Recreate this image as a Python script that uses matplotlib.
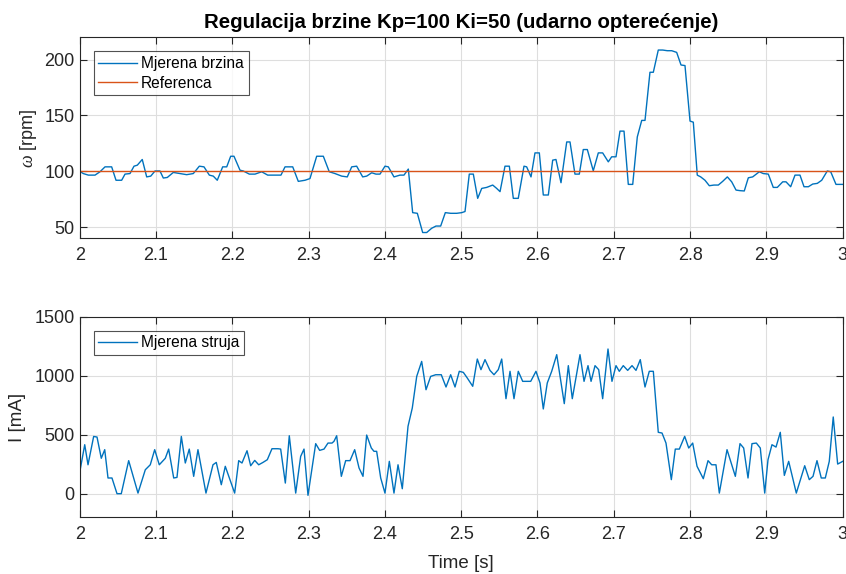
import matplotlib
matplotlib.use("Agg")
import matplotlib.pyplot as plt
from matplotlib.ticker import FuncFormatter

plt.rcParams['font.family'] = ['Liberation Sans', 'DejaVu Sans']
plt.rcParams['mathtext.fontset'] = 'custom'
plt.rcParams['mathtext.it'] = 'Liberation Serif:italic'

## measured data ##

# speed [rpm]
t_speed = [2.0, 2.0047, 2.0113, 2.0201, 2.0266, 2.0332, 2.0419, 2.0476, 2.055, 2.0594,
           2.0659, 2.0712, 2.0755, 2.082, 2.0878, 2.0931, 2.0987, 2.1052, 2.1096, 2.1148,
           2.1227, 2.1315, 2.1402, 2.1489, 2.1568, 2.1629, 2.1699, 2.1751, 2.1803, 2.1874,
           2.1927, 2.1979, 2.2022, 2.2101, 2.2144, 2.2223, 2.2298, 2.2385, 2.2464, 2.2582,
           2.2638, 2.2691, 2.2792, 2.2865, 2.2953, 2.3018, 2.3106, 2.3193, 2.3271, 2.3346,
           2.3434, 2.3507, 2.3565, 2.363, 2.3709, 2.3761, 2.3827, 2.3883, 2.3936, 2.4001,
           2.4045, 2.4119, 2.4198, 2.425, 2.4307, 2.4364, 2.4425, 2.4495, 2.4548, 2.4613,
           2.467, 2.4731, 2.4792, 2.4862, 2.4941, 2.5007, 2.505, 2.5106, 2.5159, 2.5216,
           2.5269, 2.5334, 2.5413, 2.5465, 2.5509, 2.5574, 2.5631, 2.5683, 2.5748, 2.5823,
           2.5858, 2.5915, 2.5967, 2.6024, 2.6076, 2.6142, 2.6199, 2.6242, 2.6308, 2.6383,
           2.6426, 2.6491, 2.6548, 2.66, 2.6653, 2.6731, 2.6797, 2.6854, 2.6928, 2.6972,
           2.7029, 2.7081, 2.7134, 2.719, 2.7248, 2.7308, 2.7366, 2.7409, 2.7474, 2.7518,
           2.7583, 2.7641, 2.7701, 2.7759, 2.7824, 2.7881, 2.7933, 2.7999, 2.8042, 2.8094,
           2.8139, 2.8195, 2.8252, 2.8313, 2.837, 2.8427, 2.8488, 2.8545, 2.8602, 2.8654,
           2.871, 2.8763, 2.882, 2.8907, 2.8959, 2.9025, 2.909, 2.9143, 2.9214, 2.9257,
           2.9318, 2.9375, 2.944, 2.9493, 2.955, 2.9607, 2.9667, 2.9725, 2.9798, 2.9843,
           2.9912, 3.0]
speed = [100, 98, 96.6, 96.6, 99.6, 104, 104, 92, 92, 97.5,
         98, 104.6, 105.5, 110.6, 95, 95.7, 100.3, 100.3, 94, 94.5,
         99, 98, 97, 98, 104.6, 104, 96.6, 95.7, 92, 104,
         104, 113.5, 113.5, 101, 100.3, 97.5, 97.5, 99.6, 96.6, 96.6,
         96.6, 104, 104, 91, 92, 93.5, 113.5, 113.5, 99.6, 98,
         95.7, 95, 104, 104.6, 95, 95.7, 98.7, 97.5, 97.5, 104.6,
         104, 95, 96.6, 96.6, 102, 63, 62.4, 45.2, 45.2, 49,
         51, 51, 63, 62.4, 62.4, 63, 64, 97.5, 97.5, 75.8,
         84.7, 85.6, 87.7, 84.7, 81.8, 104.6, 104.6, 75.8, 75.8, 104.6,
         104, 95, 116.5, 116.5, 78.8, 78.8, 110, 110.6, 89.8, 126.3,
         126.3, 97.5, 97.5, 119.5, 119.5, 100.5, 116.5, 116.5, 108.5, 113,
         113, 136, 136, 88.3, 88.3, 130.8, 145.6, 145.6, 188.7, 188.7,
         208.6, 208.6, 208, 208, 206.5, 195.2, 194.7, 145, 144, 96.6,
         95, 92, 87.1, 87.7, 87.7, 91, 95, 90.6, 83.2, 82.7,
         82.4, 94.2, 95, 99.6, 98, 97.5, 85.6, 85.6, 90.6, 90.6,
         86.2, 96.6, 96.6, 86.2, 86.2, 88.6, 89.2, 92, 100.3, 99.6,
         88.3, 88.3]
ref_speed = 100

# current [mA]
t_current = [2.0, 2.0066, 2.0109, 2.0183, 2.0227, 2.0283, 2.0328, 2.0371, 2.0423, 2.0489,
             2.0545, 2.0642, 2.0764, 2.086, 2.0925, 2.0983, 2.1043, 2.1122, 2.1166, 2.1232,
             2.1275, 2.1332, 2.1384, 2.1436, 2.1494, 2.155, 2.1655, 2.1747, 2.179, 2.1856,
             2.1908, 2.2031, 2.2084, 2.2127, 2.2193, 2.2241, 2.2294, 2.2346, 2.2402, 2.2459,
             2.252, 2.2599, 2.2634, 2.2695, 2.2747, 2.2831, 2.2896, 2.294, 2.2992, 2.3093,
             2.3145, 2.3202, 2.3254, 2.3307, 2.3333, 2.3368, 2.3429, 2.3486, 2.3543, 2.3604,
             2.3661, 2.3713, 2.3761, 2.3822, 2.3857, 2.3892, 2.3945, 2.4001, 2.4058, 2.4119,
             2.4172, 2.4228, 2.4303, 2.4359, 2.4417, 2.4482, 2.4539, 2.46, 2.4666, 2.4739,
             2.4801, 2.4862, 2.4919, 2.4975, 2.5028, 2.508, 2.5151, 2.5211, 2.5259, 2.5312,
             2.5377, 2.543, 2.5486, 2.5531, 2.5587, 2.564, 2.5692, 2.5748, 2.5806, 2.5911,
             2.598, 2.6033, 2.6076, 2.6128, 2.6186, 2.6252, 2.6351, 2.6404, 2.6456, 2.6557,
             2.661, 2.6662, 2.6702, 2.6754, 2.6802, 2.6854, 2.6924, 2.6976, 2.7029, 2.7072,
             2.7124, 2.7182, 2.7239, 2.7291, 2.7347, 2.7409, 2.7465, 2.7518, 2.7583, 2.7632,
             2.7684, 2.7754, 2.7806, 2.7859, 2.7929, 2.7982, 2.8034, 2.8091, 2.8173, 2.8235,
             2.8283, 2.8339, 2.8383, 2.8484, 2.8593, 2.8654, 2.8702, 2.8759, 2.8811, 2.8868,
             2.892, 2.8978, 2.9021, 2.9073, 2.9126, 2.9182, 2.9235, 2.9292, 2.9392, 2.9502,
             2.9562, 2.9611, 2.9663, 2.9719, 2.9772, 2.9824, 2.9876, 2.9934, 3.0]
current = [180, 415, 245, 485, 480, 300, 373, 133, 133, 0,
           0, 280, 5, 203, 245, 373, 245, 300, 378, 133,
           138, 485, 260, 378, 147, 373, 5, 245, 265, 76,
           232, 5, 280, 260, 364, 237, 282, 245, 265, 288,
           381, 381, 378, 90, 491, 5, 316, 378, -14, 424,
           367, 378, 429, 429, 444, 491, 147, 280, 280, 373,
           218, 147, 497, 387, 359, 359, 133, 5, 274, 5,
           245, 42, 571, 726, 994, 1121, 881, 994, 1008, 1008,
           904, 1008, 904, 1037, 1028, 980, 910, 1141, 1051, 1136,
           1045, 1008, 1051, 1141, 805, 1037, 805, 1037, 952, 952,
           1037, 938, 718, 938, 1037, 1178, 763, 1085, 805, 1178,
           952, 1085, 952, 1085, 1051, 805, 1226, 952, 1085, 1037,
           1085, 1045, 1085, 1045, 1136, 904, 1037, 1037, 520, 514,
           429, 119, 378, 378, 486, 387, 429, 232, 127, 280,
           245, 245, 5, 373, 147, 424, 387, 133, 424, 429,
           387, 5, 288, 415, 395, 520, 155, 274, 5, 237,
           119, 147, 280, 133, 133, 274, 650, 251, 274]

x_ticks = [2.0, 2.1, 2.2, 2.3, 2.4, 2.5, 2.6, 2.7, 2.8, 2.9, 3.0]

blue = "#0072BD"
orange = "#D95319"
dark = "#262626"


def matlab_axes(ax):
    ax.set_xlim(2, 3)
    ax.set_xticks(x_ticks)
    ax.xaxis.set_major_formatter(FuncFormatter(lambda v, p: f"{v:g}"))
    ax.grid(True, color="#dedede", linewidth=0.8)
    ax.set_axisbelow(True)
    ax.tick_params(direction="in", top=True, right=True, length=5,
                   width=0.8, color=dark, labelsize=13, labelcolor=dark)
    ax.tick_params(axis="x", pad=6)
    for s in ax.spines.values():
        s.set_color(dark)
        s.set_linewidth(0.8)


def matlab_legend(ax):
    leg = ax.legend(loc="upper left", fontsize=11.2, frameon=True, fancybox=False,
                    borderaxespad=0.9, handlelength=2.5, handletextpad=0.25,
                    borderpad=0.3, labelspacing=0.3)
    leg.get_frame().set_edgecolor(dark)
    leg.get_frame().set_linewidth(0.8)
    return leg


fig = plt.figure(figsize=(8.46, 5.74), dpi=100)
ax1 = fig.add_axes([0.0942, 0.5848, 0.9019, 0.3502])
ax2 = fig.add_axes([0.0942, 0.0988, 0.9019, 0.3495])

ax1.plot(t_speed, speed, color=blue, linewidth=1.0, label="Mjerena brzina")
ax1.axhline(ref_speed, color=orange, linewidth=1.0, label="Referenca")
matlab_axes(ax1)
ax1.set_ylim(40, 220)
ax1.set_yticks([50, 100, 150, 200])
ax1.set_ylabel(r"$\it{\omega}$ [rpm]", fontsize=13, color=dark, labelpad=4)
ax1.set_title("Regulacija brzine Kp=100 Ki=50 (udarno opterećenje)",
              fontsize=14.7, fontweight="bold", pad=7)
matlab_legend(ax1)

ax2.plot(t_current, current, color=blue, linewidth=1.0, label="Mjerena struja")
matlab_axes(ax2)
ax2.set_ylim(-200, 1500)
ax2.set_yticks([0, 500, 1000, 1500])
ax2.set_ylabel("I [mA]", fontsize=13.5, color=dark, labelpad=6)
ax2.set_xlabel("Time [s]", fontsize=13.5, color=dark, labelpad=9)
matlab_legend(ax2)

fig.savefig("out.png", dpi=100)
